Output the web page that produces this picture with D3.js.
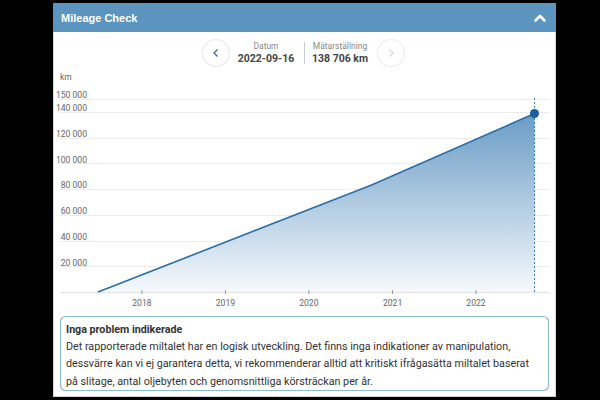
<!DOCTYPE html>
<html><head><meta charset="utf-8">
<script src="https://cdn.jsdelivr.net/npm/d3@7"></script>
<style>
html,body{margin:0;padding:0;background:#000;}
svg{display:block;font-family:Roboto,"Noto Sans",sans-serif;}
</style></head>
<body>
<script>
// ---- data ----
const dates = ["2017-06-25", "2020-10-01", "2022-09-16"];
const mileage = [0, 83000, 138706];
const yTickValues = [20000, 40000, 60000, 80000, 100000, 120000, 140000, 150000];
const xTickYears = ["2018", "2019", "2020", "2021", "2022"];
const title = "Mileage Check";
const navLabels = ["Datum", "Mätarställning"];
const navValues = ["2022-09-16", "138 706 km"];
const infoTitle = "Inga problem indikerade";
const infoLines = [
  "Det rapporterade miltalet har en logisk utveckling. Det finns inga indikationer av manipulation,",
  "dessvärre kan vi ej garantera detta, vi rekommenderar alltid att kritiskt ifrågasätta miltalet baserat",
  "på slitage, antal oljebyten och genomsnittliga körsträckan per år."
];

const parse = d3.timeParse("%Y-%m-%d");
const data = dates.map((d, i) => ({date: parse(d), km: mileage[i]}));

const W = 600, H = 400;
const svg = d3.select("body").append("svg").attr("width", W).attr("height", H);

// panel
svg.append("rect").attr("x", 53.5).attr("y", 3.5).attr("width", 502).attr("height", 393)
  .attr("fill", "#fff").attr("stroke", "#d6d6d6");
svg.append("rect").attr("x", 53).attr("y", 3).attr("width", 503).attr("height", 29).attr("fill", "#5b94be");
svg.append("text").attr("x", 61).attr("y", 21.5).attr("fill", "#fff").attr("font-size", 11)
  .attr("font-weight", 700).attr("font-family", "'Liberation Sans', Arial, sans-serif").text(title);
svg.append("path").attr("d", "M535.5,20.5 L540,16 L544.5,20.5").attr("fill", "none")
  .attr("stroke", "#fff").attr("stroke-width", 2.6).attr("stroke-linecap", "round").attr("stroke-linejoin", "round");

// navigation
const nav = svg.append("g");
nav.append("circle").attr("cx", 216).attr("cy", 53).attr("r", 13.5).attr("fill", "#fff")
  .attr("stroke", "#e6e9ec").attr("stroke-width", 1.2);
nav.append("path").attr("d", "M217.5,49.5 L214,53 L217.5,56.5").attr("fill", "none")
  .attr("stroke", "#3d73a8").attr("stroke-width", 1.4);
nav.append("circle").attr("cx", 391).attr("cy", 53).attr("r", 13.5).attr("fill", "#fff")
  .attr("stroke", "#eceef0").attr("stroke-width", 1.2);
nav.append("path").attr("d", "M389.5,49.5 L393,53 L389.5,56.5").attr("fill", "none")
  .attr("stroke", "#d4d8dc").attr("stroke-width", 1.3);
nav.append("line").attr("x1", 304.5).attr("x2", 304.5).attr("y1", 42).attr("y2", 64).attr("stroke", "#ccc");
[[266, 0], [340, 1]].forEach(([x, i]) => {
  nav.append("text").attr("x", x).attr("y", 49).attr("text-anchor", "middle").attr("font-size", 8.5)
    .attr("fill", "#888").text(navLabels[i]);
  nav.append("text").attr("x", x).attr("y", 62).attr("text-anchor", "middle").attr("font-size", 10.5)
    .attr("font-weight", 700).attr("fill", "#444").text(navValues[i]);
});

// chart scales
const x = d3.scaleTime().domain(d3.extent(data, d => d.date)).range([98, 534.5]);
const y = d3.scaleLinear().domain([0, 150000]).range([292, 99]);

svg.append("text").attr("x", 60).attr("y", 80).attr("font-size", 8.5).attr("fill", "#666").text("km");

// grid
svg.append("g").selectAll("line").data(yTickValues).join("line")
  .attr("x1", 60).attr("x2", 549).attr("y1", d => Math.round(y(d)) + 0.5).attr("y2", d => Math.round(y(d)) + 0.5)
  .attr("stroke", "#ebebeb");

// y labels via axis
const yAxis = svg.append("g").attr("transform", "translate(87,-4)")
  .call(d3.axisLeft(y).tickValues(yTickValues).tickSize(0).tickPadding(0)
    .tickFormat(d => d3.format(",")(d).replace(/,/g, " ")));
yAxis.select(".domain").remove();
yAxis.selectAll("text").attr("font-size", 8.6).attr("fill", "#666").attr("font-family", "Roboto, sans-serif");

// area + line
const defs = svg.append("defs");
const grad = defs.append("linearGradient").attr("id", "g").attr("gradientUnits", "userSpaceOnUse")
  .attr("x1", 0).attr("x2", 0).attr("y1", y(d3.max(mileage))).attr("y2", y(0));
grad.append("stop").attr("offset", 0).attr("stop-color", "#6a9cc6");
grad.append("stop").attr("offset", 1).attr("stop-color", "#f6f9fc");

svg.append("path").datum(data)
  .attr("d", d3.area().x(d => x(d.date)).y0(y(0)).y1(d => y(d.km)))
  .attr("fill", "url(#g)");

// baseline
svg.append("line").attr("x1", 60).attr("x2", 549).attr("y1", 292.5).attr("y2", 292.5).attr("stroke", "#e2e2e2");

// x axis
const xAxis = svg.append("g").attr("transform", "translate(0,292)")
  .call(d3.axisBottom(x).tickValues(xTickYears.map(yr => parse(yr + "-01-01")))
    .tickSize(4).tickPadding(4).tickFormat(d3.timeFormat("%Y")));
xAxis.select(".domain").remove();
xAxis.selectAll("line").attr("stroke", "#999").attr("transform", "translate(0,-2)");
xAxis.selectAll("text").attr("font-size", 8.6).attr("fill", "#666").attr("font-family", "Roboto, sans-serif");

svg.append("path").datum(data)
  .attr("d", d3.line().x(d => x(d.date)).y(d => y(d.km)))
  .attr("fill", "none").attr("stroke", "#2a6ea8").attr("stroke-width", 1.6);

const last = data[data.length - 1];
svg.append("line").attr("x1", x(last.date)).attr("x2", x(last.date)).attr("y1", 98).attr("y2", 292)
  .attr("stroke", "#3a7dbd").attr("stroke-width", 1).attr("stroke-dasharray", "2,2");
svg.append("circle").attr("cx", x(last.date)).attr("cy", y(last.km)).attr("r", 4.5).attr("fill", "#1a5f9e");

// info box
svg.append("rect").attr("x", 60.5).attr("y", 316.5).attr("width", 488).attr("height", 74).attr("rx", 5)
  .attr("fill", "#fff").attr("stroke", "#8dbccb").attr("stroke-width", 1.2);
svg.append("text").attr("x", 66).attr("y", 333).attr("font-size", 10.7).attr("font-weight", 700)
  .attr("fill", "#333").text(infoTitle);
infoLines.forEach((t, i) => {
  svg.append("text").attr("x", 66).attr("y", 349.5 + i * 17.5).attr("font-size", 10.75)
    .attr("fill", "#333").text(t);
});
</script>
</body></html>
